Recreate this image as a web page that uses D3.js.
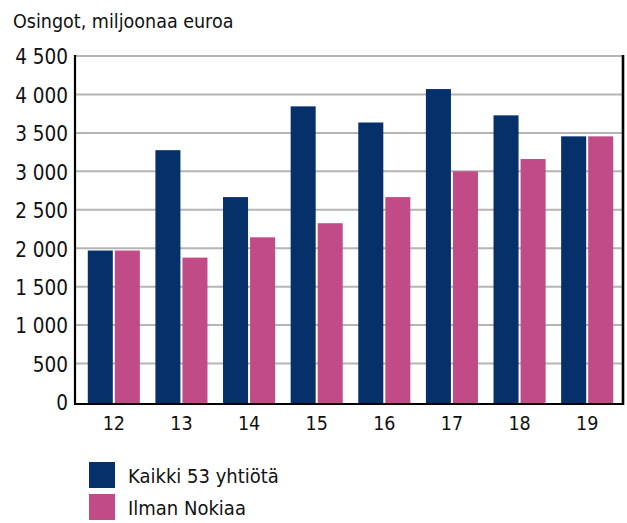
<!DOCTYPE html>
<html lang="fi">
<head>
    <meta charset="utf-8" />
    <title>Osingot</title>
    <script src="https://cdn.jsdelivr.net/npm/d3@7"></script>
    <style>
        body { margin: 0; background: #fff; }
        text { font-family: "Liberation Sans Narrow", "DejaVu Sans Condensed", sans-serif; fill: #111; }
    </style>
</head>
<body>
    <svg width="627" height="523"></svg>
    <script>
        // data
        var years = ["12", "13", "14", "15", "16", "17", "18", "19"];
        var seriesNames = ["Kaikki 53 yhtiötä", "Ilman Nokiaa"];
        var kaikki = [1970, 3275, 2665, 3845, 3635, 4070, 3728, 3455];
        var ilmanNokiaa = [1970, 1878, 2142, 2325, 2665, 3000, 3160, 3455];
        var yTicks = [0, 500, 1000, 1500, 2000, 2500, 3000, 3500, 4000, 4500];
        var colors = ["#05306a", "#c14b87"];

        var svg = d3.select("svg");
        var plotLeft = 75, plotRight = 623, plotTop = 56, plotBottom = 402;

        var x0 = d3.scaleBand().domain(years).range([80, 621]).paddingInner(0.23).paddingOuter(0.115);
        var x1 = d3.scaleBand().domain([0, 1]).range([0, x0.bandwidth()]).paddingInner(0.075);
        var y = d3.scaleLinear().domain([0, 4500]).range([plotBottom, plotTop]);

        function fmt(v) {
            return d3.format(",")(v).replace(",", " ");
        }

        // title
        svg.append("text")
            .attr("x", 13).attr("y", 28)
            .style("font-size", "19.5px")
            .text("Osingot, miljoonaa euroa");

        // gridlines
        svg.append("g")
            .selectAll("line")
            .data(yTicks.filter(function (d) { return d > 0; }))
            .enter().append("line")
            .attr("x1", plotLeft).attr("x2", plotRight)
            .attr("y1", function (d) { return y(d); })
            .attr("y2", function (d) { return y(d); })
            .attr("stroke", "#b5b5b5")
            .attr("stroke-width", 2);

        // bars
        var rows = years.map(function (yr, i) { return { year: yr, vals: [kaikki[i], ilmanNokiaa[i]] }; });
        svg.append("g")
            .selectAll("g")
            .data(rows)
            .enter().append("g")
            .attr("transform", function (d) { return "translate(" + x0(d.year) + ",0)"; })
            .selectAll("rect")
            .data(function (d) { return d.vals; })
            .enter().append("rect")
            .attr("x", function (d, i) { return x1(i); })
            .attr("width", x1.bandwidth())
            .attr("y", function (d) { return y(d); })
            .attr("height", function (d) { return y(0) - y(d) + 1; })
            .attr("fill", function (d, i) { return colors[i]; });

        // y axis
        var yAxis = svg.append("g")
            .attr("transform", "translate(" + plotLeft + ",0)")
            .call(d3.axisLeft(y).tickValues(yTicks).tickSize(0).tickPadding(7).tickFormat(fmt));
        yAxis.select(".domain").remove();
        yAxis.selectAll("text").style("font-size", "20.5px").attr("dy", "0.38em");

        // x axis
        var xAxis = svg.append("g")
            .attr("transform", "translate(0," + (plotBottom + 2) + ")")
            .call(d3.axisBottom(x0).tickSize(0).tickPadding(12));
        xAxis.select(".domain").remove();
        xAxis.selectAll("text").style("font-size", "19.5px");

        // frame lines
        svg.append("line").attr("x1", plotLeft).attr("x2", plotLeft).attr("y1", plotTop - 1).attr("y2", plotBottom + 3)
            .attr("stroke", "#000").attr("stroke-width", 2.2);
        svg.append("line").attr("x1", plotLeft).attr("x2", plotRight + 1).attr("y1", plotBottom + 2).attr("y2", plotBottom + 2)
            .attr("stroke", "#000").attr("stroke-width", 2.2);
        svg.append("line").attr("x1", plotRight).attr("x2", plotRight).attr("y1", plotTop - 1).attr("y2", plotBottom + 3)
            .attr("stroke", "#000").attr("stroke-width", 2.6);

        // legend
        var legend = svg.append("g")
            .selectAll("g")
            .data(seriesNames)
            .enter().append("g")
            .attr("transform", function (d, i) { return "translate(89," + (462 + i * 32) + ")"; });
        legend.append("rect")
            .attr("width", 26).attr("height", 26)
            .attr("fill", function (d, i) { return colors[i]; });
        legend.append("text")
            .attr("x", 39).attr("y", 13).attr("dy", "0.38em")
            .style("font-size", "20px")
            .text(function (d) { return d; });
    </script>
</body>
</html>
